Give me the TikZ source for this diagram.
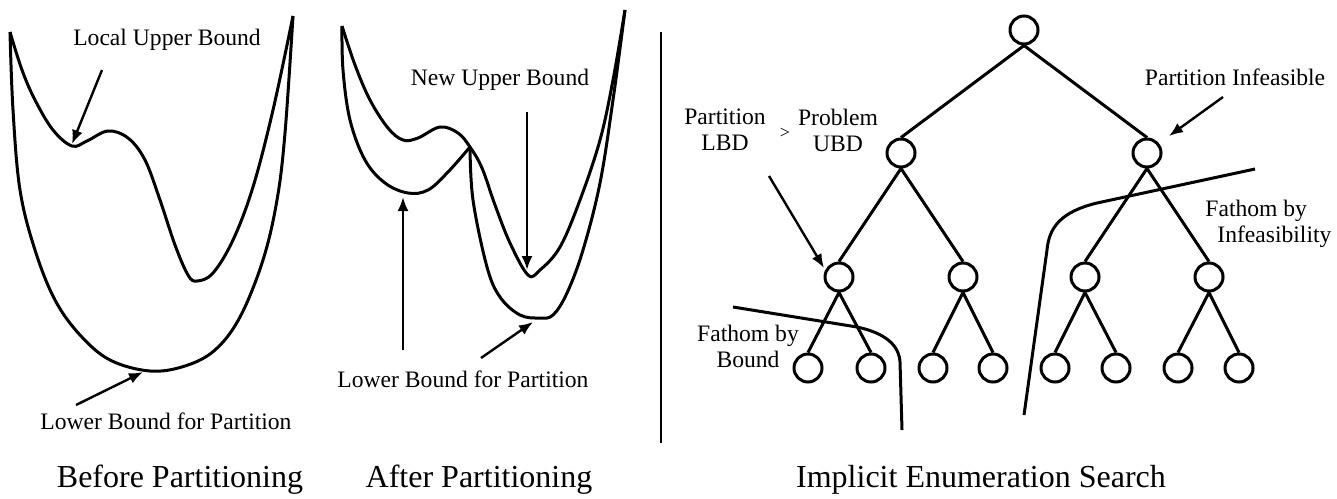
\documentclass[tikz,border=0pt]{standalone}
\usepackage{fontspec}
\setmainfont{Liberation Serif}
\usepackage{tikz}
\usetikzlibrary{positioning}
\usetikzlibrary{arrows.meta}
\pgfdeclarelayer{nodelayer}
\pgfdeclarelayer{edgelayer}
\pgfsetlayers{nodelayer,edgelayer,main}
\tikzset{
  treenode/.style={circle, draw, line width=1.5pt, minimum size=14pt, inner sep=0pt},
  smalltext/.style={font=\fontsize{11.8}{13}\selectfont, align=center, inner sep=0pt},
  bigtext/.style={font=\fontsize{16}{18}\selectfont, inner sep=0pt},
  treeedge/.style={line width=1.5pt},
  bound/.style={line width=1.5pt},
  pointer/.style={line width=1.2pt, -{Latex[length=7pt,width=5.5pt]}},
  fathom/.style={line width=1.5pt},
}

\begin{document}
\begin{tikzpicture}[x=0.5pt, y=-0.5pt]
  \useasboundingbox (0,0) rectangle (1337,498);
  \begin{pgfonlayer}{nodelayer}
    % search tree
    \node [treenode] (0) at (1024, 30) {};
    \node [treenode] (1) at (901, 153) {};
    \node [treenode] (2) at (1147, 153) {};
    \node [treenode] (3) at (839, 277) {};
    \node [treenode] (4) at (963, 277) {};
    \node [treenode] (5) at (1085, 277) {};
    \node [treenode] (6) at (1209, 277) {};
    \node [treenode] (7) at (808, 368) {};
    \node [treenode] (8) at (871, 368) {};
    \node [treenode] (9) at (933, 368) {};
    \node [treenode] (10) at (993, 368) {};
    \node [treenode] (11) at (1055, 368) {};
    \node [treenode] (12) at (1116, 368) {};
    \node [treenode] (13) at (1178, 368) {};
    \node [treenode] (14) at (1239, 368) {};
    % labels
    \node [smalltext] (16) at (167, 40) {Local Upper Bound};
    \node [smalltext] (17) at (166, 421) {Lower Bound for Partition};
    \node [bigtext] (18) at (180, 480) {Before Partitioning};
    \node [smalltext] (19) at (500, 80) {New Upper Bound};
    \node [smalltext] (20) at (463, 379) {Lower Bound for Partition};
    \node [bigtext] (21) at (479, 480) {After Partitioning};
    \node [smalltext] (22) at (725, 130) {Partition\\LBD};
    \node [smalltext, font=\fontsize{9}{10}\selectfont] (23) at (785, 133) {>};
    \node [smalltext] (24) at (838, 130) {Problem\\UBD};
    \node [smalltext] (25) at (1235, 77) {Partition Infeasible};
    \node [smalltext, align=left, anchor=west] (26) at (1205, 224) {Fathom by\\\hspace*{6pt}Infeasibility};
    \node [smalltext] (27) at (748, 346) {Fathom by\\Bound};
    \node [bigtext] (28) at (981, 480) {Implicit Enumeration Search};
    % arrow ends
    \coordinate (30) at (102, 70);
    \coordinate (31) at (72, 144);
    \coordinate (32) at (76, 405);
    \coordinate (33) at (143, 372);
    \coordinate (34) at (527, 112);
    \coordinate (35) at (527, 270);
    \coordinate (36) at (403, 350);
    \coordinate (37) at (403, 197);
    \coordinate (38) at (481, 358);
    \coordinate (39) at (533, 322);
    \coordinate (40) at (769, 176);
    \coordinate (41) at (824, 268);
    \coordinate (42) at (1223, 97);
    \coordinate (43) at (1169, 136);
    \coordinate (44) at (661, 32);
    \coordinate (45) at (661, 443);
  \end{pgfonlayer}
  \begin{pgfonlayer}{edgelayer}
    \draw [treeedge] (0.south) to (1.north);
    \draw [treeedge] (0.south) to (2.north);
    \draw [treeedge] (1.south) to (3.north);
    \draw [treeedge] (1.south) to (4.north);
    \draw [treeedge] (2.south) to (5.north);
    \draw [treeedge] (2.south) to (6.north);
    \draw [treeedge] (3.south) to (7.north);
    \draw [treeedge] (3.south) to (8.north);
    \draw [treeedge] (4.south) to (9.north);
    \draw [treeedge] (4.south) to (10.north);
    \draw [treeedge] (5.south) to (11.north);
    \draw [treeedge] (5.south) to (12.north);
    \draw [treeedge] (6.south) to (13.north);
    \draw [treeedge] (6.south) to (14.north);
    \draw [pointer] (30) to (31);
    \draw [pointer] (32) to (33);
    \draw [pointer] (34) to (35);
    \draw [pointer] (36) to (37);
    \draw [pointer] (38) to (39);
    \draw [pointer] (40) to (41);
    \draw [pointer] (42) to (43);
    \draw [line width=1pt] (44) to (45);
  \end{pgfonlayer}
  % before partitioning
  \draw [bound] plot [smooth, tension=0.6] coordinates {(10,32) (22,70) (35,100) (53,130) (72,146) (87,141) (108,131) (128,138) (145,160) (160,200) (175,245) (188,275) (197,281) (213,273) (233,240) (253,187) (273,110) (293,16)};
  \draw [bound] plot [smooth, tension=0.6] coordinates {(10,32) (13,110) (20,190) (35,250) (55,300) (80,335) (110,360) (150,371) (185,366) (215,350) (240,317) (263,260) (277,200) (285,133) (293,16)};
  % after partitioning
  \draw [bound] plot [smooth, tension=0.6] coordinates {(342,26) (355,65) (370,100) (388,128) (403,140) (418,138) (440,127) (458,133) (470,147) (482,168) (495,205) (510,243) (528,275) (540,270) (560,247) (580,200) (600,140) (613,80) (625,10)};
  \draw [bound] plot [smooth, tension=0.6] coordinates {(342,26) (343,70) (350,120) (365,160) (385,183) (408,193) (428,190) (448,172) (470,147)};
  \draw [bound] plot [smooth, tension=0.6] coordinates {(470,147) (473,200) (487,267) (500,297) (520,315) (540,318) (553,315) (567,293) (583,250) (600,183) (613,100) (625,10)};
  % fathoming cuts
  \draw [fathom] (733,307) -- (857,327) .. controls (885,333) and (899,345) .. (900,362) -- (902,430);
  \draw [fathom] (1255,169) -- (1097,203) .. controls (1060,212) and (1049,228) .. (1047,250) -- (1024,415);
\end{tikzpicture}
\end{document}
